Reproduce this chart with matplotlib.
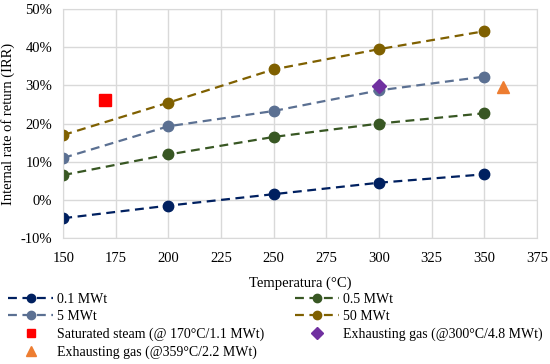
import matplotlib
matplotlib.use("Agg")
from matplotlib import pyplot as plt
from matplotlib.ticker import FuncFormatter

plt.rcParams['font.family'] = ['Liberation Serif', 'DejaVu Serif']

temps = [150, 200, 250, 300, 350]
irr_01 = [-4.8, -1.5, 1.5, 4.5, 6.7]
irr_05 = [6.5, 11.9, 16.5, 20.0, 22.7]
irr_5 = [11.0, 19.3, 23.3, 28.7, 32.3]
irr_50 = [17.0, 25.5, 34.2, 39.5, 44.2]

steam_t, steam_irr = [170], [26.3]
gas300_t, gas300_irr = [300], [29.9]
gas359_t, gas359_irr = [359], [29.6]

fig = plt.figure(figsize=(5.5, 3.64), dpi=100)
ax = fig.add_axes([0.115, 0.346, 0.861, 0.629])

series = [
    (irr_01, "0.1 MWt", "#002060"),
    (irr_05, "0.5 MWt", "#385723"),
    (irr_5, "5 MWt", "#5B7092"),
    (irr_50, "50 MWt", "#7F6000"),
]
h = {}
for vals, nombre, color in series:
    h[nombre], = ax.plot(temps, vals, linestyle=(0, (4, 2.5)), color=color, lw=1.6,
                         marker="o", markersize=7.5, label=nombre)

h["steam"], = ax.plot(steam_t, steam_irr, "s", color="#FF0000", markersize=8,
                      linestyle="none", label="Saturated steam (@ 170°C/1.1 MWt)")
h["gas300"], = ax.plot(gas300_t, gas300_irr, "D", color="#7030A0", markersize=7.5,
                       linestyle="none", label="Exhausting gas (@300°C/4.8 MWt)")
h["gas359"], = ax.plot(gas359_t, gas359_irr, "^", color="#ED7D31", markersize=9,
                       linestyle="none", label="Exhausting gas (@359°C/2.2 MWt)")

ax.set_xlim(150, 375)
ax.set_ylim(-10, 50)
ax.set_xticks(range(150, 376, 25))
ax.set_yticks(range(-10, 51, 10))
ax.yaxis.set_major_formatter(FuncFormatter(lambda v, p: f"{v:.0f}%".replace("\u2212", "-")))
ax.grid(True, color="#D9D9D9", lw=1)
ax.set_axisbelow(True)
ax.tick_params(length=0, labelsize=10.5)
ax.tick_params(axis="x", pad=10)
ax.tick_params(axis="y", pad=8)
for s in ax.spines.values():
    s.set_color("#D9D9D9")

ax.set_xlabel("Temperatura (°C)", fontsize=10.5, labelpad=8)
ax.set_ylabel("Internal rate of return (IRR)", fontsize=10.5, labelpad=4)

orden = [h["0.1 MWt"], h["5 MWt"], h["steam"], h["gas359"],
         h["0.5 MWt"], h["50 MWt"], h["gas300"]]
fig.legend(handles=orden, loc="lower left", bbox_to_anchor=(0.0, -0.008), ncol=2,
           frameon=False, fontsize=10, handlelength=3.2, handletextpad=0.3,
           columnspacing=2.2, labelspacing=0.3, borderaxespad=0.2, markerscale=0.8)

plt.savefig("out.png", dpi=100)
